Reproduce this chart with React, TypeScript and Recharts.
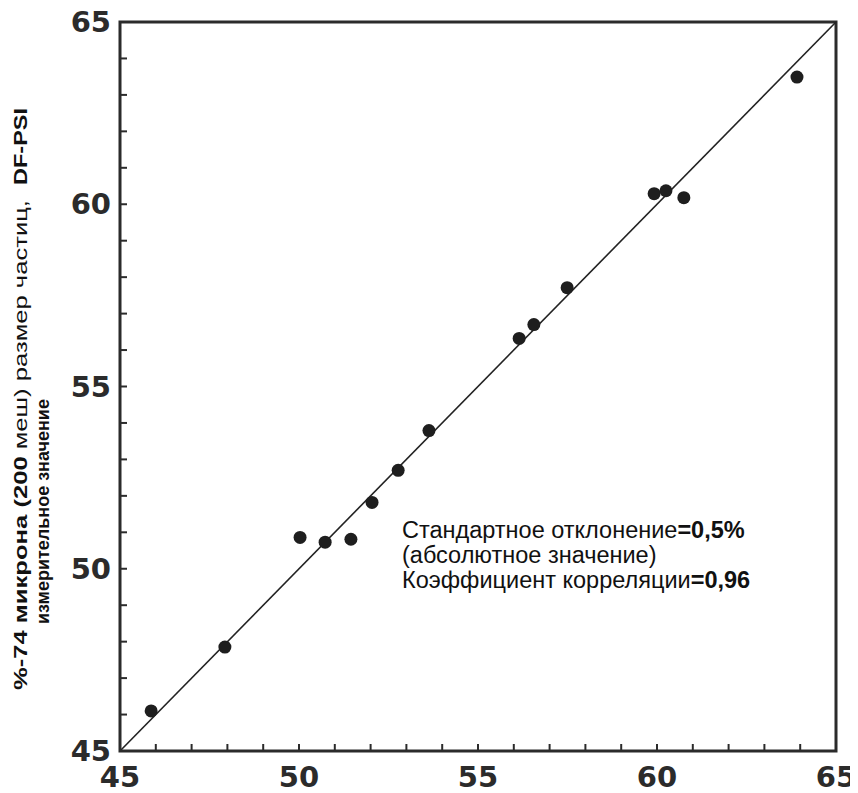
import React from 'react';
import { ScatterChart, Scatter, XAxis, YAxis, ReferenceLine, ReferenceArea } from 'recharts';

// Lab (x) vs DF-PSI measured (y), % -74 micron
const labValues = [45.87, 47.93, 50.03, 50.73, 51.45, 52.04, 52.77, 53.63, 56.15, 56.56, 57.49, 59.92, 60.25, 60.75, 63.91];
const psiValues = [46.1, 47.85, 50.86, 50.73, 50.81, 51.82, 52.7, 53.79, 56.32, 56.7, 57.71, 60.29, 60.37, 60.18, 63.49];
const axisTicks = [45, 46, 47, 48, 49, 50, 51, 52, 53, 54, 55, 56, 57, 58, 59, 60, 61, 62, 63, 64, 65];
const labeledTicks = [45, 50, 55, 60, 65];
const domain: [number, number] = [45, 65];

const points = labValues.map((x, i) => ({ x, y: psiValues[i] }));

const INK = '#2b2b2b';
const TICK_FONT = { fontFamily: 'DejaVu Sans, Arial, sans-serif', fontWeight: 'bold' as const, fontSize: 29, fill: INK };

const XTick = (props: any) => {
  const { x, y, payload } = props;
  const v = payload.value;
  return (
    <g>
      <line x1={x} x2={x} y1={y} y2={y - 7} stroke={INK} strokeWidth={2} />
      {labeledTicks.includes(v) && (
        <text x={x} y={y + 36} textAnchor="middle" {...TICK_FONT}>{v}</text>
      )}
    </g>
  );
};

const YTick = (props: any) => {
  const { x, y, payload } = props;
  const v = payload.value;
  return (
    <g>
      <line x1={x} x2={x + 7} y1={y} y2={y} stroke={INK} strokeWidth={2} />
      {labeledTicks.includes(v) && (
        <text x={x - 9} y={y + 10} textAnchor="end" {...TICK_FONT}>{v}</text>
      )}
    </g>
  );
};

const Dot = (props: any) => <circle cx={props.cx} cy={props.cy} r={6.5} fill="#1e1e1e" />;

const LABEL_FONT = 'Liberation Sans, Arial, sans-serif';

export default function App() {
  return (
    <ScatterChart width={850} height={785} margin={{ top: 14, right: 22, bottom: 0, left: 0 }}>
      <XAxis
        type="number"
        dataKey="x"
        domain={domain}
        ticks={axisTicks}
        interval={0}
        tickSize={0}
        tickMargin={0}
        tickLine={false}
        axisLine={false}
        tick={<XTick />}
        height={42}
        allowDataOverflow
      />
      <YAxis
        type="number"
        dataKey="y"
        domain={domain}
        ticks={axisTicks}
        interval={0}
        tickSize={0}
        tickMargin={0}
        tickLine={false}
        axisLine={false}
        tick={<YTick />}
        width={112}
        allowDataOverflow
      />
      <ReferenceArea x1={45} x2={65} y1={45} y2={65} fill="none" stroke={INK} strokeWidth={3} ifOverflow="visible" />
      <ReferenceLine segment={[{ x: 45, y: 45 }, { x: 65, y: 65 }]} stroke="#222" strokeWidth={1.6} ifOverflow="visible" />
      <Scatter data={points} fill="#1e1e1e" shape={<Dot />} isAnimationActive={false} />
      <g>
        <text transform="translate(19,682) rotate(-90)" fontFamily={LABEL_FONT} fontSize={19} fill="#111" textLength={490} lengthAdjust="spacingAndGlyphs">
          <tspan fontWeight="bold">%-74 микрона (200 </tspan>
          <tspan>меш) размер частиц,</tspan>
        </text>
        <text transform="translate(19,100) rotate(-90)" fontFamily={LABEL_FONT} fontSize={19} fill="#111" textAnchor="end" fontWeight="bold" textLength={77} lengthAdjust="spacingAndGlyphs">DF-PSI</text>
        <text transform="translate(41,616) rotate(-90)" fontFamily={LABEL_FONT} fontSize={18} fill="#111" fontWeight="bold">измерительное значение</text>
      </g>
      <g fontFamily={LABEL_FONT} fontSize={23.5} fill="#111">
        <text x={394} y={530}>
          <tspan>Стандартное отклонение</tspan>
          <tspan fontWeight="bold">=0,5%</tspan>
        </text>
        <text x={394} y={555}>(абсолютное значение)</text>
        <text x={394} y={580}>
          <tspan>Коэффициент корреляции</tspan>
          <tspan fontWeight="bold">=0,96</tspan>
        </text>
      </g>
    </ScatterChart>
  );
}
